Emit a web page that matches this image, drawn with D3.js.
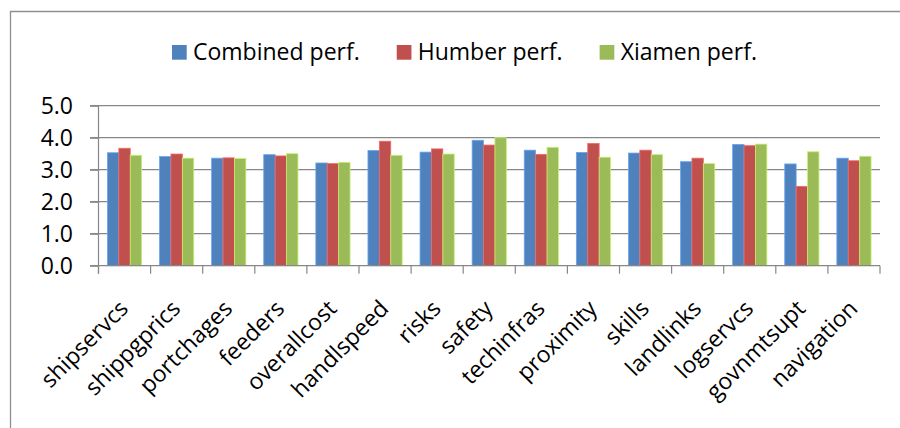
<!DOCTYPE html>
<html>
<head>
<meta charset="utf-8">
<script src="https://cdn.jsdelivr.net/npm/d3@7"></script>
<style>
  html, body { margin: 0; padding: 0; background: #fff; }
  svg { display: block; font-family: "Open Sans", "Noto Sans", sans-serif; }
</style>
</head>
<body>
<svg id="chart" width="900" height="428"></svg>
<script>
// Port performance factors, three ratings per factor
const categories = ["shipservcs", "shippgprics", "portchages", "feeders", "overallcost",
  "handlspeed", "risks", "safety", "techinfras", "proximity", "skills", "landlinks",
  "logservcs", "govnmtsupt", "navigation"];
const seriesNames = ["Combined perf.", "Humber perf.", "Xiamen perf."];
const combined = [3.53, 3.41, 3.36, 3.47, 3.21, 3.60, 3.55, 3.92, 3.61, 3.54, 3.52, 3.25, 3.79, 3.18, 3.36];
const humber   = [3.67, 3.49, 3.37, 3.43, 3.19, 3.89, 3.65, 3.77, 3.48, 3.82, 3.61, 3.36, 3.75, 2.48, 3.28];
const xiamen   = [3.45, 3.36, 3.35, 3.50, 3.23, 3.45, 3.49, 4.00, 3.70, 3.39, 3.47, 3.19, 3.80, 3.56, 3.42];
const yTicks = [0, 1, 2, 3, 4, 5];
const colors = ["#4F81BD", "#C0504D", "#9BBB59"];

const seriesValues = [combined, humber, xiamen];
const rows = categories.map((c, i) => ({
  category: c,
  values: seriesNames.map((s, k) => ({ series: s, k, value: seriesValues[k][i] }))
}));

const svg = d3.select("#chart");
const gridColor = "#878787";

// outer frame
svg.append("path")
  .attr("d", "M10.5,428 V11.5 H900")
  .attr("fill", "none").attr("stroke", "#8f8f8f").attr("stroke-width", 1.3);

const plot = { left: 98.5, right: 880, top: 105.7, bottom: 265.7 };

const x = d3.scaleBand().domain(categories).range([plot.left, plot.right]).padding(0);
const xs = d3.scaleBand().domain(seriesNames).range([0, x.bandwidth()])
  .paddingInner(0).paddingOuter(0.785);
const y = d3.scaleLinear().domain([0, 5]).range([plot.bottom, plot.top]);

// horizontal gridlines
svg.append("g").selectAll("line").data(yTicks.filter(d => d > 0)).join("line")
  .attr("x1", plot.left - 8.5).attr("x2", plot.right)
  .attr("y1", d => y(d)).attr("y2", d => y(d))
  .attr("stroke", gridColor).attr("stroke-width", 1.2);

// bars
const groups = svg.append("g").selectAll("g").data(rows).join("g")
  .attr("transform", d => `translate(${x(d.category)},0)`);
groups.selectAll("rect").data(d => d.values).join("rect")
  .attr("x", d => xs(d.series))
  .attr("width", xs.bandwidth())
  .attr("y", d => y(d.value))
  .attr("height", d => y(0) - y(d.value))
  .attr("fill", d => colors[d.k])
  .attr("stroke", d => d3.color(colors[d.k]).brighter(0.7))
  .attr("stroke-width", 0.8);

// y axis
const yAxis = d3.axisLeft(y).tickValues(yTicks).tickFormat(d3.format(".1f"))
  .tickSize(8.5).tickPadding(17);
const gy = svg.append("g").attr("transform", `translate(${plot.left},0)`).call(yAxis);
gy.select(".domain").attr("d", `M0,${plot.top} V${plot.bottom + 8}`)
  .attr("stroke", gridColor).attr("stroke-width", 1.2);
gy.selectAll(".tick line").attr("stroke", gridColor).attr("stroke-width", 1.2);
gy.selectAll(".tick text")
  .attr("font-family", "Open Sans").attr("font-size", 23).attr("fill", "#000")
  .attr("dy", "0.36em");

// x axis: baseline plus tick marks at category boundaries
const gx = svg.append("g");
gx.append("line").attr("x1", plot.left - 8.5).attr("x2", plot.right)
  .attr("y1", plot.bottom).attr("y2", plot.bottom)
  .attr("stroke", gridColor).attr("stroke-width", 1.2);
const bounds = categories.map(c => x(c)).concat([plot.right]);
gx.selectAll("line.tk").data(bounds).join("line").attr("class", "tk")
  .attr("x1", d => d).attr("x2", d => d)
  .attr("y1", plot.bottom).attr("y2", plot.bottom + 8)
  .attr("stroke", gridColor).attr("stroke-width", 1.2);

// rotated category labels
gx.selectAll("text").data(categories).join("text")
  .attr("transform", d => `translate(${x(d) + x.bandwidth() / 2 + 5},${310}) rotate(-45)`)
  .attr("text-anchor", "end")
  .attr("font-size", 23).attr("fill", "#000")
  .text(d => d);

// legend
const legend = svg.append("g");
let lx = 172;
seriesNames.forEach((s, k) => {
  legend.append("rect").attr("x", lx).attr("y", 45).attr("width", 14.7).attr("height", 14.7)
    .attr("fill", colors[k]);
  const t = legend.append("text").attr("x", lx + 21).attr("y", 60)
    .attr("font-size", 23).attr("fill", "#000").text(s);
  lx += 21 + t.node().getComputedTextLength() + 37;
});
</script>
</body>
</html>
